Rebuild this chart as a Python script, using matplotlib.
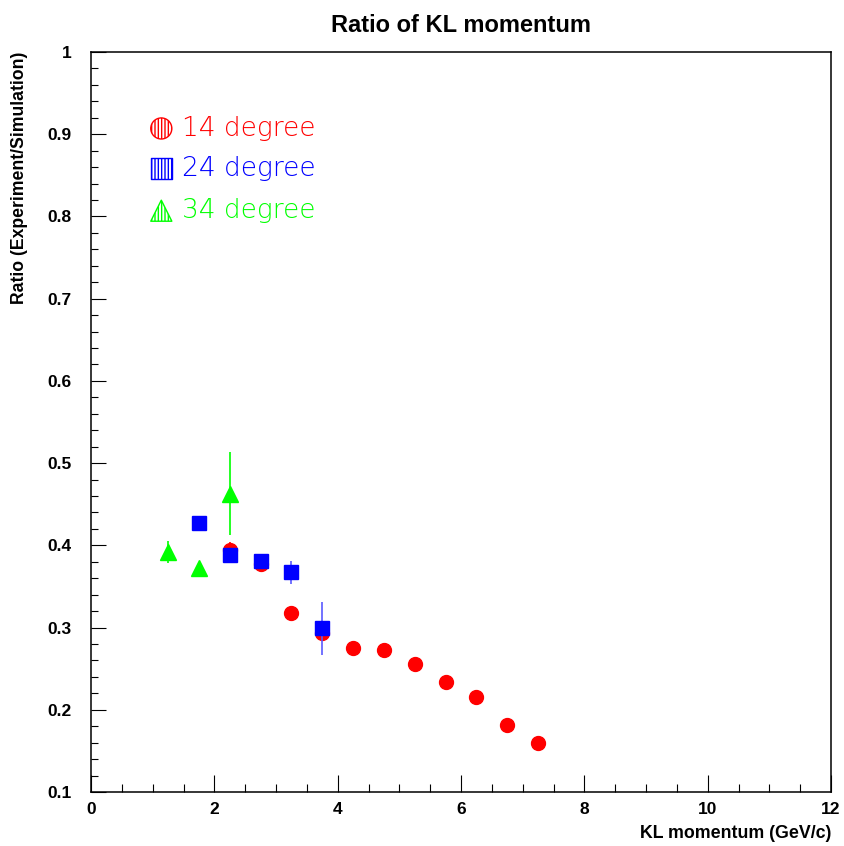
import matplotlib
matplotlib.use("Agg")
import matplotlib.pyplot as plt
from matplotlib.ticker import MultipleLocator
import numpy as np

# Data
x14 = [2.25, 2.75, 3.25, 3.75, 4.25, 4.75, 5.25, 5.75, 6.25, 6.75, 7.25]
y14 = [0.394, 0.377, 0.318, 0.293, 0.275, 0.273, 0.256, 0.234, 0.215, 0.181, 0.160]
e14 = [0.010, 0.005, 0.005, 0.005, 0.004, 0.004, 0.004, 0.004, 0.004, 0.004, 0.004]

x24 = [1.75, 2.25, 2.75, 3.25, 3.75]
y24 = [0.427, 0.388, 0.381, 0.367, 0.299]
e24 = [0.008, 0.006, 0.006, 0.0135, 0.032]

x34 = [1.25, 1.75, 2.25]
y34 = [0.392, 0.372, 0.463]
e34 = [0.013, 0.005, 0.050]

legend_labels = ["14 degree", "24 degree", "34 degree"]
title = "Ratio of KL momentum"
xlabel = "KL momentum (GeV/c)"
ylabel = "Ratio (Experiment/Simulation)"

RED, BLUE, GREEN = "#ff0000", "#0000ff", "#00ff00"
bold = dict(family="Liberation Sans", weight="bold")

fig = plt.figure(figsize=(8.45, 8.46), dpi=100)
W, H = 845, 846
L, R, T, B = 91, 831, 52, 792
ax = fig.add_axes([L / W, 1 - B / H, (R - L) / W, (B - T) / H])
ax.set_xlim(0, 12)
ax.set_ylim(0.1, 1.0)

ms = 10
ax.errorbar(x14, y14, yerr=e14, fmt="o", color=RED, ms=ms, elinewidth=1.2, capsize=0, zorder=3)
ax.errorbar(x24, y24, yerr=e24, fmt="s", color=BLUE, ms=ms, elinewidth=1.2, capsize=0, zorder=4,
            ecolor="#5a5aff")
ax.errorbar(x34, y34, yerr=e34, fmt="^", color=GREEN, ms=ms + 1, elinewidth=1.2, capsize=0, zorder=5)

# Legend (hatched markers + text)
markers = ["o", "s", "^"]
colors = [RED, BLUE, GREEN]
ly = [0.907, 0.858, 0.807]
for m, c, yy, lab in zip(markers, colors, ly, legend_labels):
    ax.scatter([1.14], [yy], marker=m, s=230, facecolors="none", edgecolors=c,
               hatch="|||||", linewidths=1.0, zorder=6)
    ax.text(1.47, yy, lab, color=c, fontsize=19, family="DejaVu Sans",
            weight="light", ha="left", va="center")

# Ticks
ax.xaxis.set_major_locator(MultipleLocator(2))
ax.xaxis.set_minor_locator(MultipleLocator(0.5))
ax.yaxis.set_major_locator(MultipleLocator(0.1))
ax.yaxis.set_minor_locator(MultipleLocator(0.02))
ax.tick_params(axis="x", which="major", direction="in", length=12, width=0.8, pad=7)
ax.tick_params(axis="x", which="minor", direction="in", length=6, width=0.8)
ax.tick_params(axis="y", which="major", direction="in", length=11, width=0.8, pad=14)
ax.tick_params(axis="y", which="minor", direction="in", length=5, width=0.8)
ax.tick_params(top=False, right=False, which="both")
ax.set_xticks([0, 2, 4, 6, 8, 10, 12])
ax.set_xticklabels(["0", "2", "4", "6", "8", "10", "12"])
ax.set_yticks([0.1, 0.2, 0.3, 0.4, 0.5, 0.6, 0.7, 0.8, 0.9, 1.0])
ax.set_yticklabels(["0.1", "0.2", "0.3", "0.4", "0.5", "0.6", "0.7", "0.8", "0.9", "1"])
for lab in ax.get_xticklabels() + ax.get_yticklabels():
    lab.set_fontproperties(matplotlib.font_manager.FontProperties(size=12.5, **bold))
for s in ax.spines.values():
    s.set_linewidth(1.1)

fig.text((L + R) / 2 / W, 1 - 25 / H, title, ha="center", va="center", fontsize=17, **bold)
fig.text(R / W, 1 - 833 / H, xlabel, ha="right", va="center", fontsize=12.8, **bold)
fig.text(20 / W, 1 - T / H, ylabel, ha="center", va="top", rotation=90, fontsize=12.7, **bold)

fig.savefig("out.png", dpi=100)
